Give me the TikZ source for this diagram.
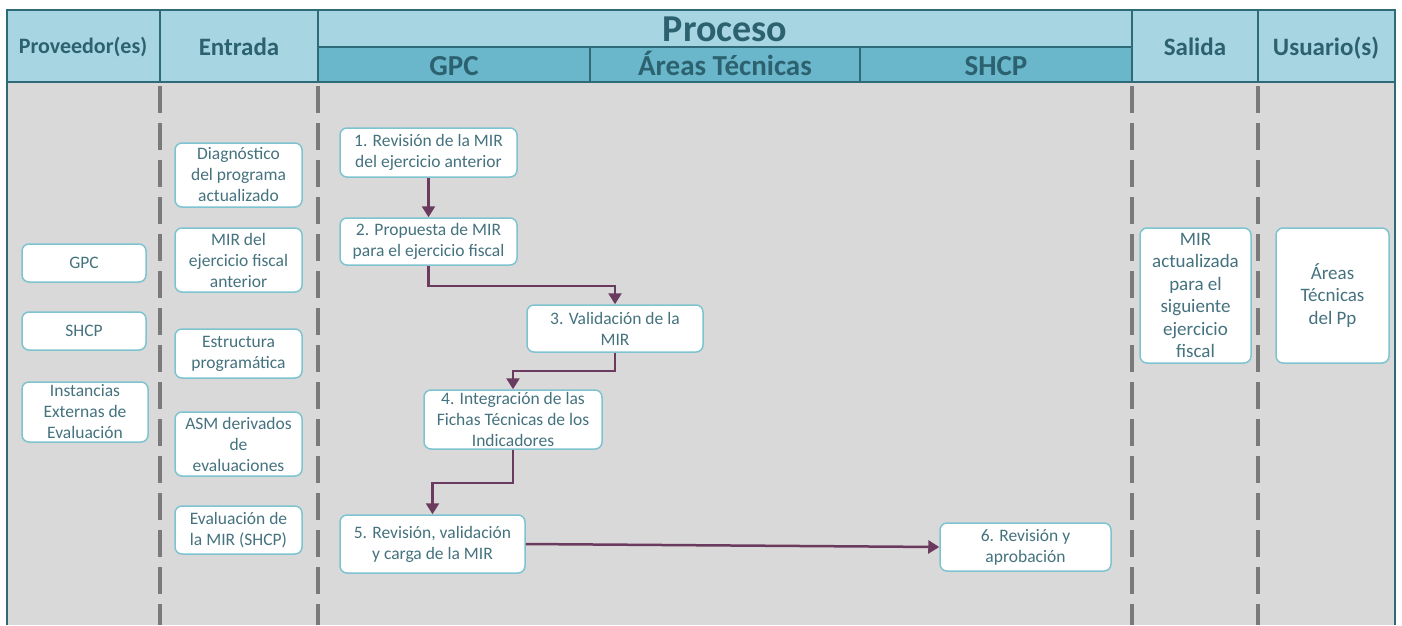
\documentclass[tikz,border=0pt]{standalone}
\usepackage{fontspec}
\setmainfont{Carlito}
\usetikzlibrary{arrows.meta}
\usetikzlibrary{positioning}
\definecolor{headlight}{HTML}{A7D5E1}
\definecolor{headdark}{HTML}{6AB6CA}
\definecolor{headline}{HTML}{2E6A78}
\definecolor{headtext}{HTML}{2C6270}
\definecolor{boxline}{HTML}{7DC3D0}
\definecolor{boxtext}{HTML}{44727E}
\definecolor{bodygray}{HTML}{D9D9D9}
\definecolor{flowcolor}{HTML}{6B3B5F}
\definecolor{dividergray}{HTML}{7A7A7A}
\newcommand*\titlesize[1]{\bfseries\fontsize{#1}{#1}\selectfont}

\begin{document}
\begin{tikzpicture}
    [%
        x=1pt,y=-1pt,%
        lane head/.style={%
            draw=headline,%
            line width=1.5pt,%
            fill=headlight%
        },%
        lane subhead/.style={%
            lane head,%
            fill=headdark%
        },%
        lane title/.style={%
            text=headtext,%
            anchor=base,%
            font=\titlesize{25}%
        },%
        item box/.style={%
            draw=boxline,%
            line width=1.5pt,%
            fill=white,%
            rounded corners=7pt,%
            align=center,%
            text=boxtext,%
            inner sep=1pt,%
            font=\fontsize{17.5}{21}\selectfont%
        },%
        flow arrow/.style={%
            draw=flowcolor,%
            line width=2.5pt,%
            -{Triangle[width=13pt,length=11pt]}%
        },%
        lane divider/.style={%
            draw=dividergray,%
            line width=4pt,%
            dash pattern=on 27pt off 10pt%
        }%
    ]%
    \useasboundingbox (0,0) rectangle (1402,625);
%
    % body of the lanes
    \fill[bodygray] (7,82) rectangle (1395,625);
    \draw[headline,line width=1.5pt] (7,82) -- (7,625);
    \draw[headline,line width=2pt] (1395,82) -- (1395,625);
    \foreach \x in {160,318,1132,1258} {
        \draw[lane divider] (\x,86) -- (\x,625);
    } % \foreach \x
%
    % header cells
    % \xa/\xb left and right edge of a lane
    \foreach \xa/\xb in {7/160,160/318,1132/1258,1258/1395} {
        \path[lane head] (\xa,10) rectangle (\xb,82);
    }
    \path[lane head] (318,10) rectangle (1132,47);
    \foreach \xa/\xb in {318/590,590/860,860/1132} {
        \path[lane subhead] (\xa,47) rectangle (\xb,82);
    }
%
    % header titles
    \node[lane title,font=\titlesize{22}] (head-prov) at (83,53) {Proveedor(es)};
    \node[lane title] (head-ent) at (239,55) {Entrada};
    \node[lane title,font=\titlesize{38}] (head-proc) at (725,41) {Proceso};
    \node[lane title,font=\titlesize{29}] (head-gpc) at (454,75) {GPC};
    \node[lane title,font=\titlesize{29}] (head-at) at (725,75) {Áreas Técnicas};
    \node[lane title,font=\titlesize{29}] (head-shcp) at (996,75) {SHCP};
    \node[lane title] (head-sal) at (1195,55) {Salida};
    \node[lane title] (head-usu) at (1326,55) {Usuario(s)};
%
    % proveedores
    \node[item box,minimum width=124pt,minimum height=38pt] (prov-gpc) at (84,263) {GPC};
    \node[item box,minimum width=124pt,minimum height=38pt] (prov-shcp) at (84,331) {SHCP};
    \node[item box,minimum width=126pt,minimum height=60pt] (prov-iee) at (85,412)
        {Instancias\\Externas de\\Evaluación};
%
    % entradas
    % \name node name, \y centre, \h height, \txt the text
    \foreach \name/\y/\h/\txt in {%
        diag/175/64/{Diagnóstico\\del programa\\actualizado},%
        mir/260/64/{MIR del\\ejercicio fiscal\\anterior},%
        estr/353.5/49/{Estructura\\programática},%
        asm/444/64/{ASM derivados\\de\\evaluaciones},%
        eval/530/48/{Evaluación de\\la MIR (SHCP)}%
    }{
        \node[item box,minimum width=127pt,minimum height=\h pt] (ent-\name) at (238.5,\y) {\txt};
    } % \foreach \name
%
    % pasos del proceso
    \node[item box,minimum width=177pt,minimum height=49pt] (paso-1) at (428.5,152.5)
        {1. Revisión de la MIR\\del ejercicio anterior};
    \node[item box,minimum width=177pt,minimum height=47pt] (paso-2) at (428.5,241.5)
        {2. Propuesta de MIR\\para el ejercicio fiscal};
    \node[item box,minimum width=176pt,minimum height=47pt] (paso-3) at (615,328.5)
        {3. Validación de la\\MIR};
    \node[item box,minimum width=178pt,minimum height=59pt] (paso-4) at (513,419.5)
        {4. Integración de las\\Fichas Técnicas de los\\Indicadores};
    \node[item box,minimum width=185pt,minimum height=58pt] (paso-5) at (432.5,544)
        {5. Revisión, validación\\y carga de la MIR};
    \node[item box,minimum width=171pt,minimum height=48pt] (paso-6) at (1025.5,547)
        {6. Revisión y\\aprobación};
%
    % salida y usuarios
    \node[item box,minimum width=111pt,minimum height=135pt,font=\fontsize{19}{22.5}\selectfont]
        (sal-mir) at (1195.5,295.5)
        {MIR\\actualizada\\para el\\siguiente\\ejercicio\\fiscal};
    \node[item box,minimum width=113pt,minimum height=135pt,font=\fontsize{19}{22.5}\selectfont]
        (usu-at) at (1332.5,295.5) {Áreas\\Técnicas\\del Pp};
%
    % flujo entre pasos
    \draw[flow arrow] (paso-1) -- (paso-2);
    \draw[flow arrow] (paso-2.south) -- ++(0,20) -| (paso-3.north);
    \draw[flow arrow] (paso-3.south) -- ++(0,18) -| (paso-4.north);
    \draw[flow arrow] (paso-4.south) -- ++(0,33) -| (paso-5.north);
    \draw[flow arrow] (paso-5.east) -- (paso-6.west);
\end{tikzpicture}
\end{document}
